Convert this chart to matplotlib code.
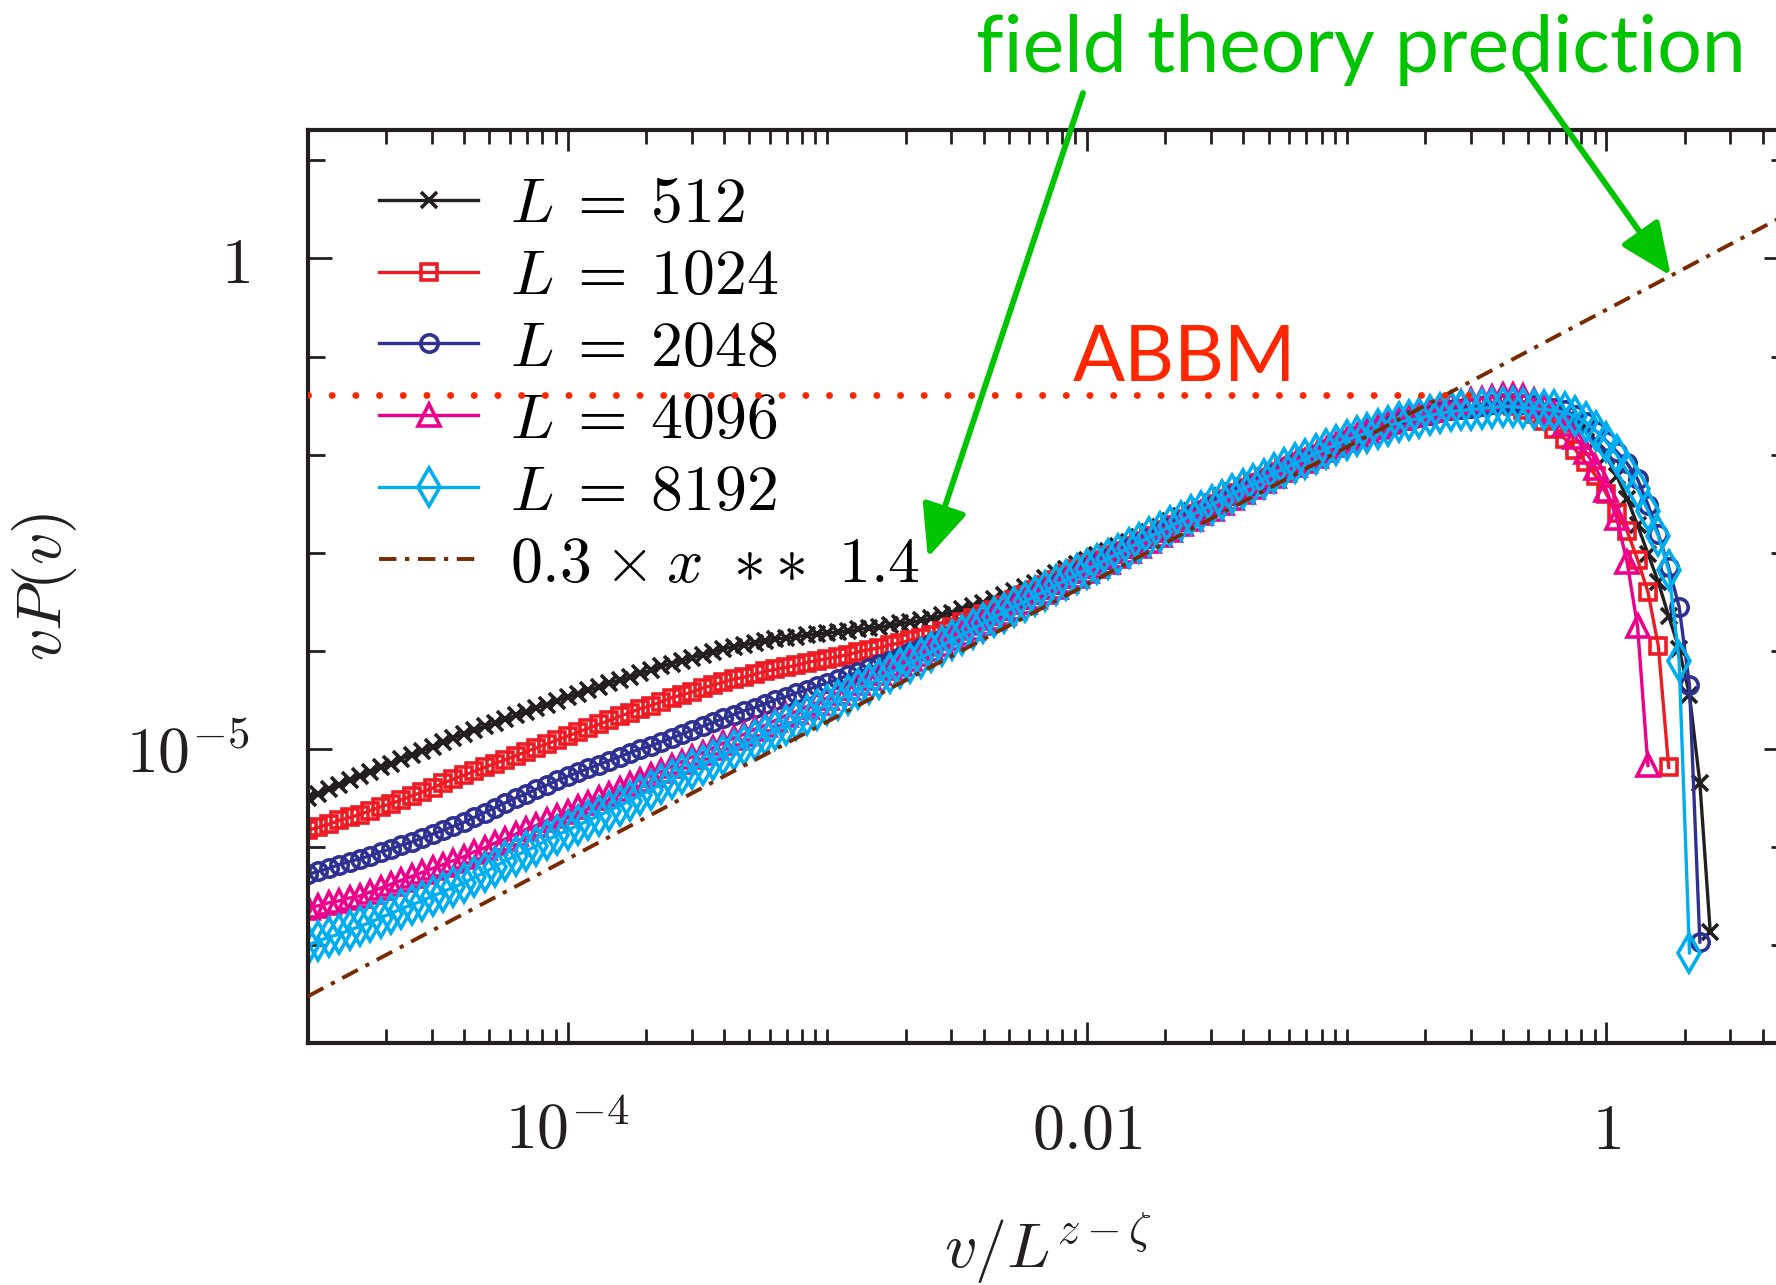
import numpy as np
import matplotlib
matplotlib.use('Agg')
import matplotlib.pyplot as plt
from matplotlib.ticker import FixedLocator, FixedFormatter, LogLocator, NullFormatter

plt.rcParams['mathtext.fontset'] = 'cm'
plt.rcParams['font.family'] = 'DejaVu Serif'

# log10 of the scaled velocity v / L^(z - zeta), common bin grid
log_x = [
    -5.00, -4.96, -4.92, -4.88, -4.84, -4.80, -4.76, -4.72, -4.68, -4.64,
    -4.60, -4.56, -4.52, -4.48, -4.44, -4.40, -4.36, -4.32, -4.28, -4.24,
    -4.20, -4.16, -4.12, -4.08, -4.04, -4.00, -3.96, -3.92, -3.88, -3.84,
    -3.80, -3.76, -3.72, -3.68, -3.64, -3.60, -3.56, -3.52, -3.48, -3.44,
    -3.40, -3.36, -3.32, -3.28, -3.24, -3.20, -3.16, -3.12, -3.08, -3.04,
    -3.00, -2.96, -2.92, -2.88, -2.84, -2.80, -2.76, -2.72, -2.68, -2.64,
    -2.60, -2.56, -2.52, -2.48, -2.44, -2.40, -2.36, -2.32, -2.28, -2.24,
    -2.20, -2.16, -2.12, -2.08, -2.04, -2.00, -1.96, -1.92, -1.88, -1.84,
    -1.80, -1.76, -1.72, -1.68, -1.64, -1.60, -1.56, -1.52, -1.48, -1.44,
    -1.40, -1.36, -1.32, -1.28, -1.24, -1.20, -1.16, -1.12, -1.08, -1.04,
    -1.00, -0.96, -0.92, -0.88, -0.84, -0.80, -0.76, -0.72, -0.68, -0.64,
    -0.60, -0.56, -0.52, -0.48, -0.44, -0.40, -0.36, -0.32, -0.28, -0.24,
    -0.20, -0.16, -0.12, -0.08, -0.04, 0.00, 0.04, 0.08, 0.12, 0.16,
    0.20, 0.24, 0.28, 0.32, 0.36, 0.40,
]

# log10 of vP(v), one list per system size
log_vp_512 = [
    -5.50, -5.46, -5.41, -5.37, -5.32, -5.28, -5.24, -5.19, -5.15, -5.10,
    -5.06, -5.02, -4.98, -4.93, -4.89, -4.85, -4.81, -4.77, -4.74, -4.70,
    -4.66, -4.62, -4.58, -4.55, -4.51, -4.47, -4.44, -4.40, -4.37, -4.33,
    -4.30, -4.27, -4.23, -4.20, -4.16, -4.13, -4.10, -4.07, -4.04, -4.01,
    -3.98, -3.96, -3.94, -3.92, -3.90, -3.88, -3.87, -3.86, -3.84, -3.83,
    -3.82, -3.81, -3.80, -3.78, -3.77, -3.76, -3.74, -3.72, -3.71, -3.69,
    -3.67, -3.64, -3.61, -3.57, -3.54, -3.51, -3.47, -3.43, -3.39, -3.35,
    -3.31, -3.26, -3.21, -3.17, -3.12, -3.07, -3.02, -2.98, -2.93, -2.89,
    -2.84, -2.79, -2.74, -2.68, -2.63, -2.58, -2.53, -2.48, -2.42, -2.37,
    -2.32, -2.27, -2.22, -2.17, -2.12, -2.07, -2.02, -1.98, -1.93, -1.89,
    -1.84, -1.80, -1.77, -1.73, -1.70, -1.66, -1.64, -1.61, -1.59, -1.56,
    -1.54, -1.53, -1.52, -1.50, -1.49, -1.48, -1.48, -1.49, -1.50, -1.51,
    -1.53, -1.57, -1.64, -1.73, -1.86, -2.02, -2.22, -2.45, -2.72, -3.01,
    -3.30, -3.65, -3.98, -4.45, -5.35, -6.87,
]
log_vp_1024 = [
    -5.83, -5.80, -5.77, -5.73, -5.70, -5.67, -5.63, -5.59, -5.56, -5.52,
    -5.48, -5.44, -5.40, -5.35, -5.31, -5.27, -5.23, -5.19, -5.15, -5.11,
    -5.07, -5.03, -4.99, -4.95, -4.91, -4.87, -4.83, -4.79, -4.75, -4.71,
    -4.67, -4.63, -4.59, -4.56, -4.52, -4.48, -4.45, -4.42, -4.38, -4.35,
    -4.32, -4.29, -4.27, -4.24, -4.21, -4.19, -4.17, -4.15, -4.12, -4.10,
    -4.08, -4.06, -4.04, -4.01, -3.99, -3.97, -3.94, -3.92, -3.89, -3.87,
    -3.84, -3.80, -3.76, -3.71, -3.67, -3.63, -3.58, -3.53, -3.48, -3.43,
    -3.38, -3.33, -3.28, -3.22, -3.17, -3.12, -3.07, -3.02, -2.98, -2.93,
    -2.88, -2.83, -2.77, -2.72, -2.66, -2.61, -2.56, -2.50, -2.45, -2.39,
    -2.34, -2.29, -2.24, -2.18, -2.13, -2.08, -2.03, -1.99, -1.94, -1.90,
    -1.85, -1.81, -1.77, -1.74, -1.70, -1.66, -1.64, -1.61, -1.59, -1.56,
    -1.54, -1.53, -1.52, -1.50, -1.49, -1.48, -1.50, -1.54, -1.59, -1.66,
    -1.74, -1.84, -1.95, -2.08, -2.22, -2.40, -2.60, -2.78, -3.07, -3.40,
    -3.95, -5.19,
]
log_vp_2048 = [
    -6.28, -6.25, -6.22, -6.18, -6.15, -6.12, -6.09, -6.05, -6.02, -5.98,
    -5.95, -5.91, -5.87, -5.83, -5.79, -5.75, -5.70, -5.65, -5.60, -5.55,
    -5.50, -5.46, -5.41, -5.37, -5.32, -5.28, -5.24, -5.20, -5.16, -5.12,
    -5.08, -5.04, -5.00, -4.97, -4.93, -4.89, -4.85, -4.81, -4.77, -4.73,
    -4.69, -4.65, -4.61, -4.58, -4.54, -4.50, -4.47, -4.43, -4.40, -4.36,
    -4.33, -4.29, -4.25, -4.22, -4.18, -4.14, -4.10, -4.06, -4.01, -3.97,
    -3.93, -3.88, -3.83, -3.78, -3.73, -3.68, -3.63, -3.58, -3.52, -3.47,
    -3.42, -3.37, -3.32, -3.26, -3.21, -3.16, -3.11, -3.06, -3.00, -2.95,
    -2.90, -2.85, -2.79, -2.74, -2.68, -2.63, -2.58, -2.52, -2.47, -2.41,
    -2.36, -2.31, -2.26, -2.20, -2.15, -2.10, -2.05, -2.00, -1.95, -1.90,
    -1.85, -1.81, -1.78, -1.74, -1.71, -1.67, -1.65, -1.62, -1.60, -1.57,
    -1.55, -1.53, -1.52, -1.50, -1.48, -1.47, -1.47, -1.48, -1.49, -1.50,
    -1.52, -1.55, -1.60, -1.67, -1.76, -1.86, -1.97, -2.09, -2.25, -2.51,
    -2.81, -3.15, -3.55, -4.35, -6.97,
]
log_vp_4096 = [
    -6.62, -6.60, -6.57, -6.55, -6.52, -6.50, -6.46, -6.42, -6.38, -6.34,
    -6.30, -6.26, -6.22, -6.18, -6.14, -6.10, -6.05, -6.01, -5.96, -5.92,
    -5.87, -5.82, -5.78, -5.73, -5.69, -5.64, -5.59, -5.55, -5.50, -5.46,
    -5.41, -5.36, -5.32, -5.27, -5.23, -5.18, -5.13, -5.08, -5.04, -4.99,
    -4.94, -4.89, -4.85, -4.80, -4.76, -4.71, -4.66, -4.62, -4.57, -4.53,
    -4.48, -4.43, -4.38, -4.33, -4.28, -4.23, -4.18, -4.13, -4.08, -4.03,
    -3.98, -3.93, -3.87, -3.82, -3.77, -3.72, -3.67, -3.61, -3.56, -3.50,
    -3.45, -3.40, -3.35, -3.29, -3.24, -3.19, -3.14, -3.09, -3.03, -2.98,
    -2.93, -2.88, -2.82, -2.77, -2.71, -2.66, -2.60, -2.55, -2.49, -2.44,
    -2.38, -2.33, -2.27, -2.22, -2.16, -2.11, -2.06, -2.01, -1.95, -1.90,
    -1.85, -1.81, -1.76, -1.72, -1.67, -1.63, -1.60, -1.57, -1.54, -1.51,
    -1.48, -1.46, -1.44, -1.43, -1.41, -1.39, -1.39, -1.40, -1.44, -1.50,
    -1.58, -1.69, -1.82, -1.97, -2.14, -2.36, -2.65, -3.10, -3.75, -5.17,
]
log_vp_8192 = [
    -7.00, -6.96, -6.92, -6.89, -6.85, -6.81, -6.77, -6.72, -6.68, -6.63,
    -6.59, -6.55, -6.50, -6.46, -6.41, -6.37, -6.31, -6.26, -6.20, -6.14,
    -6.09, -6.04, -5.99, -5.93, -5.88, -5.83, -5.78, -5.73, -5.68, -5.63,
    -5.58, -5.53, -5.47, -5.42, -5.36, -5.31, -5.26, -5.21, -5.16, -5.11,
    -5.06, -5.01, -4.96, -4.91, -4.86, -4.81, -4.76, -4.71, -4.65, -4.60,
    -4.55, -4.50, -4.45, -4.39, -4.34, -4.29, -4.23, -4.18, -4.12, -4.07,
    -4.01, -3.95, -3.89, -3.84, -3.78, -3.72, -3.66, -3.61, -3.55, -3.50,
    -3.44, -3.39, -3.33, -3.28, -3.22, -3.17, -3.12, -3.06, -3.01, -2.95,
    -2.90, -2.84, -2.79, -2.73, -2.68, -2.62, -2.57, -2.51, -2.46, -2.40,
    -2.35, -2.30, -2.25, -2.19, -2.14, -2.09, -2.04, -1.99, -1.94, -1.90,
    -1.85, -1.81, -1.78, -1.74, -1.71, -1.67, -1.65, -1.63, -1.60, -1.58,
    -1.56, -1.55, -1.54, -1.53, -1.52, -1.51, -1.51, -1.52, -1.53, -1.54,
    -1.55, -1.57, -1.61, -1.67, -1.76, -1.87, -2.00, -2.17, -2.35, -2.57,
    -2.83, -3.18, -4.10, -7.08,
]

sizes = [512, 1024, 2048, 4096, 8192]
series = [log_vp_512, log_vp_1024, log_vp_2048, log_vp_4096, log_vp_8192]
colors = ['#231f20', '#ed1c24', '#2e3192', '#ec008c', '#00aeef']
markers = ['x', 's', 'o', '^', 'd']
marker_sizes = [12, 12, 12.5, 16, 19]

# power law from field theory and the ABBM plateau
fit_coef = 0.3
fit_exp = 1.4
abbm_level = 0.041
abbm_xmax = 0.35
arrow_x = 1.77

green = '#00c400'
abbm_red = '#ff2600'
ink = '#231f20'

fig = plt.figure(figsize=(17.76, 12.85), dpi=100)
ax = fig.add_axes([0.1734, 0.1883, 0.8333, 0.7105])
ax.set_xscale('log')
ax.set_yscale('log')
ax.set_xlim(1e-5, 5)
ax.set_ylim(1e-8, 20.4)

handles = []
for L, lv, c, m, ms in zip(sizes, series, colors, markers, marker_sizes):
    x = 10.0 ** np.array(log_x[:len(lv)])
    y = 10.0 ** np.array(lv)
    h, = ax.plot(x, y, color=c, lw=2.4, marker=m, ms=ms, mew=2.6,
                 mfc='none', mec=c, label=r'$L\:=\:%d$' % L)
    handles.append(h)

xl = np.array(ax.get_xlim())
h_fit, = ax.plot(xl, fit_coef * xl ** fit_exp, color='#7a2a00', lw=2.8,
                 ls=(0, (4.5, 2.2, 1.1, 2.2)), zorder=5,
                 label=r'$0.3\:\times\:x\;\;{\ast}\,{\ast}\;\;1.4$')
handles.append(h_fit)

ax.plot([xl[0], abbm_xmax], [abbm_level, abbm_level], color=abbm_red,
        lw=5, ls=(0, (0.01, 3.4)), dash_capstyle='round', zorder=6)

# ticks: labelled decades every second power on x, every fifth on y
ax.xaxis.set_major_locator(FixedLocator([1e-6, 1e-4, 1e-2, 1, 100]))
ax.xaxis.set_major_formatter(FixedFormatter(
    [r'$10^{-6}$', r'$10^{-4}$', r'$0.01$', r'$1$', r'$100$']))
ax.xaxis.set_minor_locator(LogLocator(base=10, subs=np.arange(1, 10), numticks=60))
ax.xaxis.set_minor_formatter(NullFormatter())
ax.yaxis.set_major_locator(FixedLocator([1e-10, 1e-5, 1]))
ax.yaxis.set_major_formatter(FixedFormatter(
    [r'$10^{-10}$', r'$10^{-5}$', r'$1$']))
ax.yaxis.set_minor_locator(LogLocator(base=10, subs=(1.0,), numticks=40))
ax.yaxis.set_minor_formatter(NullFormatter())

ax.tick_params(which='both', direction='in', top=True, right=True,
               width=2, color=ink, labelsize=46, labelcolor=ink)
ax.tick_params(axis='x', which='major', length=15, pad=42)
ax.tick_params(axis='x', which='minor', length=10)
ax.tick_params(axis='y', which='major', length=17, pad=42)
ax.tick_params(axis='y', which='minor', length=12)
for s in ax.spines.values():
    s.set_linewidth(3)
    s.set_color(ink)

ax.set_xlabel(r'$v/L^{z-\zeta}$', fontsize=46, color=ink)
ax.xaxis.set_label_coords(0.5, -0.183)
ax.set_ylabel(r'$vP(v)$', fontsize=46, color=ink)
ax.yaxis.set_label_coords(-0.155, 0.5)

ax.legend(handles=handles, loc='upper left', bbox_to_anchor=(0.048, 0.952),
          frameon=False, fontsize=46, handlelength=1.55, handletextpad=0.5,
          labelspacing=0.17, numpoints=1, borderaxespad=0, borderpad=0)

fig.text(976 / 1776, 1 - 72 / 1285, 'field theory prediction', fontsize=56.8,
         family='Lato', color=green, ha='left', va='baseline')
fig.text(1073 / 1776, 1 - 381 / 1285, 'ABBM', fontsize=55.5,
         family='Lato', color=abbm_red, ha='left', va='baseline')

arrow_props = dict(arrowstyle='-|>,head_length=1.6,head_width=0.7',
                   mutation_scale=20, lw=4.2, color=green,
                   shrinkA=0, shrinkB=0)
ax.annotate('', xy=(10 ** -2.613, 10 ** -3.05), xycoords='data',
            xytext=(1083 / 1776, 1 - 93 / 1285), textcoords='figure fraction',
            arrowprops=arrow_props, annotation_clip=False)
ax.annotate('', xy=(arrow_x, fit_coef * arrow_x ** fit_exp), xycoords='data',
            xytext=(1527 / 1776, 1 - 73 / 1285), textcoords='figure fraction',
            arrowprops=arrow_props, annotation_clip=False)

fig.savefig('out.png', dpi=100)
